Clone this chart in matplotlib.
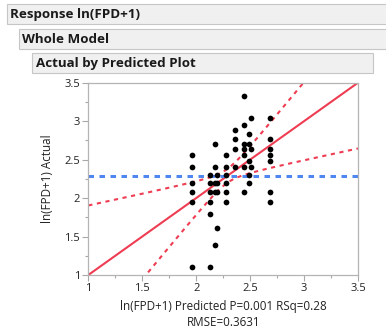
import numpy as np
import matplotlib
matplotlib.use('Agg')
import matplotlib.pyplot as plt
from matplotlib.patches import Rectangle
from matplotlib.ticker import MultipleLocator


# predicted vs actual ln(FPD+1), one list per predicted column
pred_cols = [1.96, 2.127, 2.173, 2.194, 2.28, 2.363, 2.446, 2.486, 2.506, 2.682]
actual_cols = [
	[2.565, 2.398, 2.197, 2.079, 1.946, 1.099],
	[2.303, 2.197, 2.079, 1.946, 1.792, 1.099],
	[2.708, 2.398, 2.197, 2.079, 1.386],
	[2.303, 2.197, 2.079, 1.609],
	[2.565, 2.398, 2.303, 2.197, 2.079, 1.946],
	[2.890, 2.773, 2.639, 2.398],
	[3.332, 2.944, 2.708, 2.639, 2.565, 2.398, 2.079],
	[2.833, 2.708, 2.485, 2.303, 2.197],
	[3.045, 2.639, 2.398],
	[3.045, 2.773, 2.639, 2.565, 2.485, 2.079, 1.946],
]
mean_actual = 2.285
ci_half = 0.09     # half width of confidence curves at the mean
ci_spread = 0.70   # widening of the curves away from the mean

headers = ['Response ln(FPD+1)', 'Whole Model', 'Actual by Predicted Plot']
xlabel = 'ln(FPD+1) Predicted P=0.001 RSq=0.28\nRMSE=0.3631'
ylabel = 'ln(FPD+1) Actual'

pred = np.concatenate([[p]*len(a) for p, a in zip(pred_cols, actual_cols)])
actual = np.concatenate(actual_cols)

plt.rcParams['font.family'] = ['Open Sans', 'DejaVu Sans']

W, H = 386, 332
fig = plt.figure(figsize=(W/100, H/100), dpi=100)
fig.patch.set_facecolor('white')

# report outline bars
bg = fig.add_axes([0, 0, 1, 1])
bg.set_xlim(0, W)
bg.set_ylim(H, 0)
bg.axis('off')
bars = [(7, 4, 400, 20), (19, 29, 400, 20), (32, 53, 341, 20)]
for (bx, by, bw, bh), txt in zip(bars, headers):
	bg.add_patch(Rectangle((bx, by), bw, bh, facecolor='#f0f0f0', edgecolor='#c6c6c6', lw=0.8))
	bg.text(bx + 3.5, by + bh/2 + 0.5, txt, fontsize=9.6, fontweight='bold', color='#1a1a1a',
		va='center', ha='left')

ax = fig.add_axes([88.3/W, 1 - 275/H, 269.7/W, 192.3/H])
ax.set_xlim(1, 3.5)
ax.set_ylim(1, 3.5)

xs = np.linspace(1, 3.5, 400)
red = '#ee3d52'
ax.plot(xs, xs, color=red, lw=1.5, zorder=2)
spread = np.sqrt(ci_half**2 + (ci_spread*(xs - mean_actual))**2)
ax.plot(xs, xs + spread, color=red, lw=1.5, ls=(0, (2.0, 2.2)), zorder=2)
ax.plot(xs, xs - spread, color=red, lw=1.5, ls=(0, (2.0, 2.2)), zorder=2)
ax.axhline(mean_actual, color='#4f86f0', lw=2.2, ls=(0, (1.8, 1.8)), zorder=2)

ax.scatter(pred, actual, s=17, color='black', zorder=3, linewidths=0)

ax.xaxis.set_major_locator(MultipleLocator(0.5))
ax.xaxis.set_minor_locator(MultipleLocator(0.25))
ax.yaxis.set_major_locator(MultipleLocator(0.5))
ax.yaxis.set_minor_locator(MultipleLocator(0.25))
ax.xaxis.set_major_formatter(plt.FuncFormatter(lambda v, p: f'{v:g}'))
ax.yaxis.set_major_formatter(plt.FuncFormatter(lambda v, p: f'{v:g}'))
ax.tick_params(which='major', length=4, width=0.8, color='#a8a8a8', labelsize=8,
	labelcolor='#222222', pad=2)
ax.tick_params(which='minor', length=2.5, width=0.8, color='#a8a8a8')
for sp in ax.spines.values():
	sp.set_color('#b4b4b4')
	sp.set_linewidth(0.9)

ax.set_xlabel(xlabel, fontsize=8.4, color='#222222', linespacing=1.3, labelpad=4)
ax.set_ylabel(ylabel, fontsize=8.4, color='#222222', labelpad=7)

fig.savefig('out.png', dpi=100)
plt.close('all')
